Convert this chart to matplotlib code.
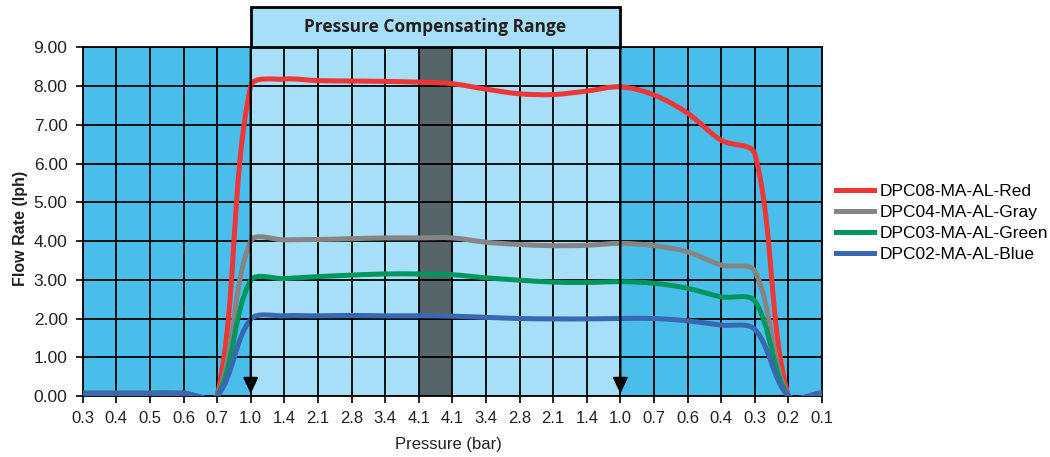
import numpy as np
import matplotlib
matplotlib.use("Agg")
import matplotlib.pyplot as plt
from matplotlib.path import Path
from matplotlib.patches import PathPatch, Rectangle
from matplotlib.lines import Line2D

# ---------------- data ----------------
pressure_labels = ['0.3', '0.4', '0.5', '0.6', '0.7', '1.0', '1.4', '2.1', '2.8', '3.4', '4.1',
                   '4.1', '3.4', '2.8', '2.1', '1.4', '1.0', '0.7', '0.6', '0.4', '0.3', '0.2', '0.1']

red_values = [0.07, 0.07, 0.07, 0.07, 0.0, 8.00, 8.18, 8.14, 8.13, 8.12, 8.10,
              8.06, 7.92, 7.80, 7.78, 7.87, 7.98, 7.77, 7.30, 6.60, 6.25, 0.0, 0.08]
gray_values = [0.07, 0.07, 0.07, 0.07, 0.0, 4.00, 4.03, 4.04, 4.06, 4.08, 4.08,
               4.08, 3.97, 3.91, 3.88, 3.89, 3.94, 3.88, 3.72, 3.38, 3.22, 0.0, 0.08]
green_values = [0.07, 0.07, 0.07, 0.07, 0.0, 2.98, 3.03, 3.08, 3.12, 3.15, 3.15,
                3.13, 3.05, 2.99, 2.94, 2.93, 2.95, 2.91, 2.78, 2.56, 2.45, 0.0, 0.08]
blue_values = [0.07, 0.07, 0.07, 0.07, 0.0, 1.98, 2.07, 2.07, 2.08, 2.07, 2.07,
               2.06, 2.03, 2.00, 1.99, 1.99, 2.00, 2.00, 1.94, 1.83, 1.72, 0.0, 0.08]

series_names = ['DPC08-MA-AL-Red', 'DPC04-MA-AL-Gray', 'DPC03-MA-AL-Green', 'DPC02-MA-AL-Blue']
series_values = [red_values, gray_values, green_values, blue_values]
series_colors = ['#EE3636', '#858585', '#00965E', '#3A67B1']

y_ticks = [0, 1, 2, 3, 4, 5, 6, 7, 8, 9]
title_text = 'Pressure Compensating Range'

# ---------------- style ----------------
plt.rcParams['font.family'] = ['Liberation Sans', 'DejaVu Sans']
DARK_BG = '#4ABEEB'
LIGHT_BG = '#A6DFF7'
BAR_GRAY = '#566569'
TEXT_COL = '#231F20'

W, H = 1050, 457
fig = plt.figure(figsize=(W / 100, H / 100), dpi=100)
ax_l, ax_r, ax_t, ax_b = 82.7, 822.0, 47.3, 396.0
ax = fig.add_axes([ax_l / W, 1 - ax_b / H, (ax_r - ax_l) / W, (ax_b - ax_t) / H])

n = len(pressure_labels)
xpos = np.arange(n)
ax.set_xlim(0, n - 1)
ax.set_ylim(y_ticks[0], y_ticks[-1])
ax.set_facecolor(DARK_BG)

# compensating range: between first and last "1.0"
rng_start = pressure_labels.index('1.0')
rng_end = n - 1 - pressure_labels[::-1].index('1.0')
peak_idx = pressure_labels.index('4.1')
ax.axvspan(rng_start, rng_end, color=LIGHT_BG, lw=0, zorder=1)
ax.axvspan(peak_idx, peak_idx + 1, color=BAR_GRAY, lw=0, zorder=1)

ax.set_xticks(xpos)
ax.set_xticklabels(pressure_labels)
ax.set_yticks(y_ticks)
ax.set_yticklabels([f'{v:.2f}' for v in y_ticks])
ax.grid(True, color='black', lw=1.3)
ax.set_axisbelow('line')
for s in ax.spines.values():
    s.set_color('black')
    s.set_linewidth(1.3)
ax.tick_params(axis='both', direction='out', length=5, width=1.2, colors='black',
               labelsize=12, labelcolor=TEXT_COL)
ax.tick_params(axis='x', pad=6)
ax.tick_params(axis='y', pad=6, labelsize=12.5)

# pixel scale for smoothing
sx = (ax_r - ax_l) / (n - 1)
sy = (ax_b - ax_t) / (y_ticks[-1] - y_ticks[0])


def smooth_path(xs, ys):
    P = np.column_stack([np.asarray(xs, float) * sx, np.asarray(ys, float) * sy])
    m = len(P)
    verts = [P[0]]
    codes = [Path.MOVETO]
    for i in range(m - 1):
        p0 = P[i - 1] if i > 0 else P[i]
        p1 = P[i]
        p2 = P[i + 1]
        p3 = P[i + 2] if i + 2 < m else P[i + 1]
        d01 = np.linalg.norm(p1 - p0)
        d12 = np.linalg.norm(p2 - p1)
        d23 = np.linalg.norm(p3 - p2)
        f1 = d12 / (d01 + d12) / 3 if d01 + d12 > 0 else 0
        f2 = d12 / (d12 + d23) / 3 if d12 + d23 > 0 else 0
        if i == 0:
            f1 = 1 / 3
        c1 = p1 + (p2 - p0) * f1
        c2 = p2 - (p3 - p1) * f2
        verts += [c1, c2, p2]
        codes += [Path.CURVE4] * 3
    V = np.array(verts)
    V[:, 0] /= sx
    V[:, 1] /= sy
    return Path(V, codes)


for vals, col in zip(series_values, series_colors):
    patch = PathPatch(smooth_path(xpos, vals), fill=False, edgecolor=col, lw=3.6,
                      capstyle='round', joinstyle='round', zorder=3)
    ax.add_patch(patch)

# arrows at the range edges
for xa in (rng_start, rng_end):
    ax.annotate('', xy=(xa, 0.06), xytext=(xa, y_ticks[-1]),
                arrowprops=dict(arrowstyle='-|>,head_length=0.95,head_width=0.45',
                                color='black', lw=1.6, shrinkA=0, shrinkB=0),
                zorder=4, annotation_clip=False)

# title box above the range
box_h = 40.0 / sy
ax.add_patch(Rectangle((rng_start, y_ticks[-1]), rng_end - rng_start, box_h,
                       facecolor=LIGHT_BG, edgecolor='black', lw=2, clip_on=False, zorder=4))
ax.text((rng_start + rng_end) / 2, y_ticks[-1] + box_h * 0.5, title_text,
        ha='center', va='center', fontsize=12.5, fontweight='bold',
        family=['Open Sans', 'DejaVu Sans'], color=TEXT_COL, zorder=5)

ax.set_xlabel('Pressure (bar)', fontsize=12, color=TEXT_COL)
ax.xaxis.label.set_va('top')
ax.xaxis.set_label_coords((448 - ax_l) / (ax_r - ax_l), (ax_b - 437) / (ax_b - ax_t))
ax.set_ylabel('Flow Rate (lph)', fontsize=11.5, fontweight='bold', color=TEXT_COL)
ax.yaxis.set_label_coords((28 - ax_l) / (ax_r - ax_l), 0.48)

handles = [Line2D([], [], color=c, lw=3.6) for c in series_colors]
fig.legend(handles, series_names, loc='center left', bbox_to_anchor=(836 / W, 1 - 223 / H),
           frameon=False, fontsize=12.5, handlelength=2.2, handletextpad=0.3,
           labelspacing=0.35, borderpad=0, borderaxespad=0)

fig.savefig('out.png', dpi=100)
